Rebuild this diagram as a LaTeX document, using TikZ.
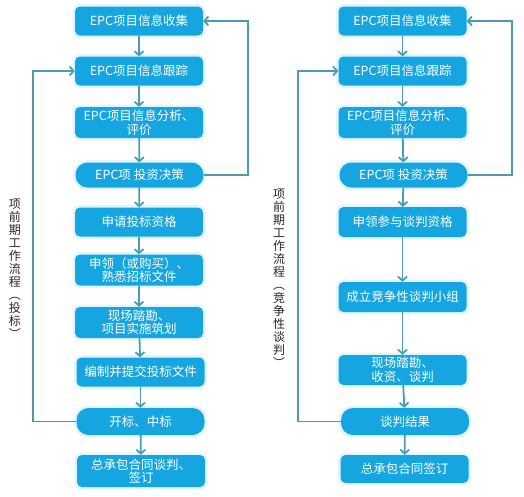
\documentclass[tikz,border=0pt]{standalone}
\usepackage{fontspec}
\setmainfont{Noto Sans CJK SC}
\usepackage{xcolor}
\usetikzlibrary{arrows.meta, positioning}
\definecolor{boxblue}{HTML}{15A6E2}
\definecolor{flowline}{HTML}{4B9CB2}
\tikzset{
	box/.style={rectangle, rounded corners=5pt, fill=boxblue, text=white, minimum width=128pt, minimum height=29pt, inner sep=1pt, align=center, font=\fontsize{12.5}{13.5}\selectfont, preaction={draw=cyan!12, line width=5pt}},
	term/.style={box, rounded corners=12pt, minimum height=25pt},
	flow/.style={draw=flowline, line width=1.8pt, -{Straight Barb[length=4pt,width=9pt]}},
	sidetext/.style={align=center, text=black!85, font=\fontsize{12}{13}\selectfont}
}
\begin{document}
\begin{tikzpicture}[x=1pt,y=-1pt]
		\useasboundingbox (0,0) rectangle (524,496);
		% left column: bidding
		\node [box] (l1) at (139,21) {EPC项目信息收集};
		\node [box] (l2) at (139,71) {EPC项目信息跟踪};
		\node [box, minimum height=31pt] (l3) at (139,122.5) {EPC项目信息分析、\\评价};
		\node [term] (l4) at (139.5,175) {EPC项 投资决策};
		\node [box] (l5) at (139,222) {申请投标资格};
		\node [box, minimum height=31pt] (l6) at (139,270) {申领（或购买）、\\熟悉招标文件};
		\node [box, minimum height=31pt] (l7) at (139,322.5) {现场踏勘、\\项目实施筑划};
		\node [box] (l8) at (140.5,372) {编制并提交投标文件};
		\node [term, minimum height=27pt] (l9) at (140.5,421.5) {开标、中标};
		\node [box, minimum height=32pt] (l10) at (141,471) {总承包合同谈判、\\签订};
		\coordinate (lback) at (33,0);
		\coordinate (lup) at (248,0);
		\foreach \a/\b in {l1/l2,l2/l3,l3/l4,l4/l5,l5/l6,l6/l7,l7/l8,l8/l9,l9/l10}
			\draw [flow] (\a) -- (\b);
		\draw [flow] (l4.east) -- (l4.east -| lup) |- (l1.east);
		\draw [flow] (l9.west) -- (l9.west -| lback) |- (l2.west);
		\node [sidetext] (ltitle) at (15,268.5) {项\\前\\期\\工\\作\\流\\程\\︵\\投\\标\\︶};
		% right column: competitive negotiation
		\node [box] (r1) at (402.5,21) {EPC项目信息收集};
		\node [box] (r2) at (402.5,71) {EPC项目信息跟踪};
		\node [box, minimum height=31pt] (r3) at (402.5,122.5) {EPC项目信息分析、\\评价};
		\node [term] (r4) at (403.5,175) {EPC项 投资决策};
		\node [box, minimum height=30pt] (r5) at (402.5,222) {申领参与谈判资格};
		\node [box, minimum height=30pt] (r6) at (402.5,297) {成立竞争性谈判小组};
		\node [box, minimum height=30pt] (r7) at (402.5,370) {现场踏勘、\\收资、谈判};
		\node [term, minimum height=27pt] (r8) at (405,421.5) {谈判结果};
		\node [box, minimum height=28pt] (r9) at (404.5,469) {总承包合同签订};
		\coordinate (rback) at (298,0);
		\coordinate (rup) at (512,0);
		\foreach \a/\b in {r1/r2,r2/r3,r3/r4,r4/r5,r5/r6,r6/r7,r7/r8,r8/r9}
			\draw [flow] (\a) -- (\b);
		\draw [flow] (r4.east) -- (r4.east -| rup) |- (r1.east);
		\draw [flow] (r8.west) -- (r8.west -| rback) |- (r2.west);
		\node [sidetext] (rtitle) at (279,278) {项\\前\\期\\工\\作\\流\\程\\︵\\竞\\争\\性\\谈\\判\\︶};
	\end{tikzpicture}
\end{document}
